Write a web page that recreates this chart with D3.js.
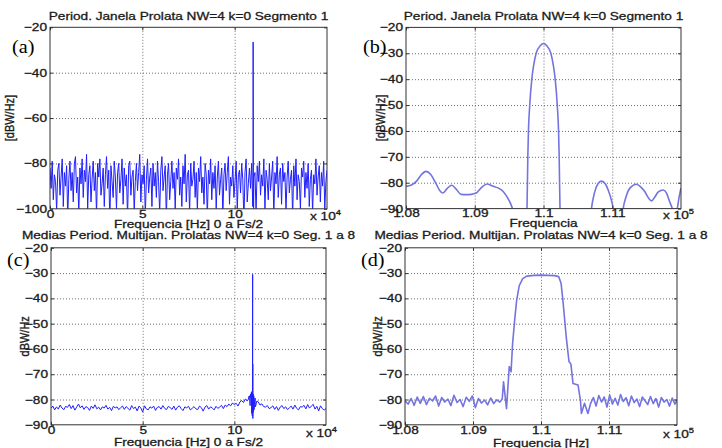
<!DOCTYPE html>
<html>
<head>
<meta charset="utf-8">
<title>Periodogramas janela prolata</title>
<script src="https://d3js.org/d3.v7.min.js"></script>
<style>
  body { margin: 0; background: #fff; }
  svg { display: block; background: #fff; }
  text { font-family: "Liberation Sans", Arial, sans-serif; fill: #1a1a1a; stroke: #1a1a1a; stroke-width: 0.3px; }
  .letra { font-family: "Liberation Serif", "Times New Roman", serif; font-size: 18px; fill: #000; stroke: none; }
</style>
</head>
<body>
<svg width="722" height="448"></svg>
<script>
// --- dados ---
// (a) periodograma de um segmento, 0 a Fs/2, passo de 600 Hz
const passoA = 600;
const ruidoA = [
  -82,-91,-79,-96,-85,-88,-101,-83,-80,-94,
  -86,-78,-99,-84,-90,-81,-104,-87,-79,-92,
  -84,-97,-80,-77,-93,-86,-102,-82,-89,-78,
  -95,-83,-88,-76,-100,-85,-81,-97,-87,-79,
  -92,-84,-103,-80,-86,-78,-94,-89,-82,-99,
  -85,-77,-91,-83,-106,-81,-88,-95,-79,-86,
  -100,-84,-80,-93,-87,-78,-98,-82,-90,-85,
  -104,-81,-79,-94,-86,-83,-101,-88,-80,-92,
  -84,-76,-97,-85,-89,-81,-103,-87,-78,-93,
  -86,-82,-99,-80,-90,-84,-95,-79,-88,-102,
  -83,-77,-92,-86,-81,-105,-85,-80,-96,-88,
  -79,-91,-84,-100,-82,-87,-78,-94,-86,-99,
  -81,-89,-76,-97,-85,-83,-102,-80,-90,-87,
  -79,-95,-84,-101,-82,-88,-77,-93,-86,-98,
  -80,-85,-104,-83,-89,-78,-96,-84,-91,-81,
  -100,-86,-79,-94,-87,-82,-103,-85,-80,-92,
  -84,-77,-98,-86,-90,-81,-95,-88,-79,-101,
  -85,-83,-93,-80,-87,-106,-84,-78,-97,-89,
  -82,-91,-80,-99,-86,-84,-102,-81,-88,-79,
  -94,-85,-90,-78,-100,-83,-87,-96,-80,-92,
  -86,-79,-103,-84,-89,-77,-95,-85,-82,-98,
  -80,-88,-84,-101,-86,-79,-93,-87,-83,-104,
  -81,-90,-78,-96,-85,-88,-100,-82,-86,-79,
  -95,-84,-91,-80,-99,-87,-83,-102,-85,-89,
  -78,-94,-86,-81,-97,-84,-90,-79,-100,-88,
  -83
];
const picoA = [[109950,-94],[110000,-26.5],[110060,-49],[110120,-86],[110250,-100]];

// (b) zoom do segmento 1 em torno de 110 kHz
const freqB = [108000,108080,108150,108220,108290,108360,108430,108490,108535,108600,108666,108730,
  108800,108880,108948,109020,109100,109181,109260,109337,109410,109470,109520,109560,109620,
  109740,109760,109772,109781,109800,109830,109855,109893,109955,110000,110045,110107,110145,
  110170,110200,110219,110228,110240,110260,
  110660,110697,110740,110790,110843,110900,110950,110990,111013,111050,
  111120,111159,111200,111260,111353,111420,111475,111530,111572,111620,111670,111742,
  111790,111830,111873,111912,111940,111970,112000];
const potB = [-81.4,-80.9,-79.5,-77.0,-75.6,-76.8,-80.0,-83.0,-84.0,-82.2,-81.0,-82.5,
  -84.5,-84.6,-84.5,-84.0,-81.8,-80.5,-81.3,-82.0,-83.3,-85.5,-88,-91,-100,
  -100,-90,-70,-60,-50,-40,-35,-30,-27,-26.2,-27,-30,-35,
  -40,-50,-60,-70,-90,-100,
  -100,-90,-84,-80.5,-79.4,-80.5,-83.5,-87,-90,-100,
  -100,-90,-85.5,-82,-80.6,-81.8,-83.5,-86,-87,-85.5,-83.5,-82.8,
  -84,-87,-90,-94,-91,-86,-82];

// (c) media dos periodogramas, passo de 1 kHz
const passoC = 1000;
const ruidoC = [
  -83.5,-82.6,-84.1,-82.9,-83.8,-82.2,-83.4,-84.0,-82.7,-83.1,
  -82.0,-83.6,-82.4,-84.2,-83.0,-81.8,-83.3,-82.5,-83.9,-82.8,
  -83.2,-84.3,-82.6,-83.5,-82.1,-83.7,-83.0,-84.1,-82.9,-83.4,
  -82.3,-83.8,-83.1,-84.4,-82.7,-83.3,-82.9,-84.0,-83.2,-82.6,
  -83.9,-82.8,-83.5,-84.2,-82.4,-83.6,-83.0,-84.5,-82.6,-83.3,
  -85.0,-82.5,-83.7,-84.1,-82.9,-83.4,-82.6,-84.3,-83.1,-82.8,
  -83.8,-82.4,-83.5,-84.0,-82.7,-83.2,-83.9,-82.6,-84.2,-83.0,
  -82.5,-83.6,-84.4,-82.9,-83.3,-82.7,-84.1,-83.5,-82.8,-83.7,
  -84.0,-82.6,-83.2,-84.6,-83.0,-82.4,-83.8,-82.9,-83.4,-84.1,
  -82.7,-83.5,-83.0,-82.3,-83.6,-82.2,-82.8,-81.8,-82.5,-81.4,
  -82.0,-81.5,-82.6,-81.0,-80.4,-81.2,-79.8,-80.5,-78.6,-79.2,
  -78.0,-80.8,-81.6,-80.9,-82.2,-81.7,-82.8,-83.0,-82.4,-83.6,
  -83.2,-82.5,-83.9,-82.8,-84.3,-83.0,-82.4,-83.6,-82.9,-84.0,
  -83.3,-82.6,-83.8,-82.2,-83.5,-84.1,-82.8,-83.0,-82.3,-83.7,
  -82.0,-83.4,-82.6,-81.9,-83.8,-82.7,-84.5,-82.5,-83.6,-84.2,
  -83.5
];
const picoC = [[107500,-80.2],[108300,-78.6],[108600,-82.4],[108800,-77.9],
  [109300,-77.2],[109500,-85.5],[109650,-76.8],[109800,-86.5],[109900,-77.5],
  [109990,-30.5],[110040,-66],[110100,-87.5],[110250,-77.8],[110400,-85],[110600,-78.5],[110800,-84],
  [111300,-79.4],[111500,-82.9],[112300,-80.6]];

// (d) zoom da media em torno de 110 kHz
const freqD = [108000,108045,108090,108135,108180,108225,108270,108315,108360,108405,108450,108495,
  108540,108585,108630,108675,108720,108765,108810,108855,108900,108945,108990,109035,109080,109125,
  109170,109215,109260,109305,109350,109395,109430,
  109449,109493,109533,109560,109582,109615,109641,109680,109730,109790,109900,110000,110100,110200,
  110260,110295,110323,110370,110412,110440,110471,110545,110580,110594,110640,110690,
  110730,110770,110810,110850,110890,110930,110970,111010,111050,111090,111130,111170,111210,111250,
  111290,111330,111370,111410,111450,111490,111530,111570,111610,111650,111690,111730,111770,111810,
  111850,111890,111930,111970,112000];
const potD = [-80.5,-81.8,-79.6,-82.3,-79.0,-81.5,-78.8,-82.0,-79.5,-80.6,-78.6,-82.6,
  -79.2,-81.0,-79.8,-82.4,-78.3,-81.2,-80.0,-82.8,-79.1,-80.7,-78.6,-83.2,-79.6,-81.4,
  -80.2,-82.1,-79.4,-81.6,-80.1,-81.0,-79.8,
  -73,-83.6,-67,-69,-58,-48,-41,-35,-32.2,-31.2,-30.9,-30.8,-30.9,-31.0,
  -31.4,-34,-41,-55,-65,-66,-73.7,-74.3,-80.3,-85.5,-81.5,-85.5,
  -81.5,-79.2,-82.6,-78.4,-81.0,-79.0,-83.0,-78.2,-81.8,-79.5,-82.2,-78.0,-80.8,-79.3,
  -82.5,-78.6,-81.2,-79.8,-82.8,-79.0,-80.5,-82.0,-78.8,-81.6,-79.6,-83.0,-79.2,-81.0,
  -80.0,-82.6,-79.4,-81.8,-80.2];

// rotulos
const tituloSeg = "Period. Janela Prolata NW=4 k=0 Segmento 1";
const tituloMed = "Medias Period. Multijan. Prolatas NW=4 k=0 Seg. 1 a 8";
const ticksLargo = [0, 50000, 100000];
const ticksZoom = [108000, 109000, 110000, 111000];
const ticksYa = [-100, -80, -60, -40, -20];
const ticksY10 = [-90, -80, -70, -60, -50, -40, -30, -20];

// monta series [freq, dB]
const serieA = ruidoA.map((v, i) => [i * passoA, v]).concat(picoA).sort((p, q) => p[0] - q[0]);
const serieC = ruidoC.map((v, i) => [i * passoC, v]).concat(picoC).sort((p, q) => p[0] - q[0]);
const serieB = freqB.map((f, i) => [f, potB[i]]);
const serieD = freqD.map((f, i) => [f, potD[i]]);

const SX = 1.24; // figura original esticada na horizontal
const svg = d3.select("svg");

const paineis = [
  {letra:"(a)", lx:12, ly:53, titulo:tituloSeg, ty:20, xlabel:"Frequencia [Hz] 0 a Fs/2", xly:228,
   ylabel:"[dBW/Hz]", ylx:14, exp:"4", ex:310, ey:220,
   x0:50, x1:327, y0:27.3, y1:208.8, xDom:[0,150000], yDom:[-100,-20],
   xTicks:ticksLargo, yTicks:ticksYa, fmt:d => d / 1e4, dados:serieA, cor:"#1f1fff", larg:1, curva:d3.curveLinear},
  {letra:"(b)", lx:363, ly:53, titulo:tituloSeg, ty:20, xlabel:"Frequencia", xly:227,
   ylabel:"[dBW/Hz]", ylx:385, exp:"5", ex:663, ey:219,
   x0:406, x1:681, y0:27.4, y1:208.6, xDom:[108000,112000], yDom:[-90,-20],
   xTicks:ticksZoom, yTicks:ticksY10, fmt:d => +(d / 1e5).toFixed(3), dados:serieB, cor:"#7474e0", larg:1.6, curva:d3.curveMonotoneX},
  {letra:"(c)", lx:7, ly:266, titulo:tituloMed, ty:239, xlabel:"Frequencia [Hz] 0 a Fs/2", xly:446,
   ylabel:"dBW/Hz", ylx:29, exp:"4", ex:306, ey:437,
   x0:51, x1:326, y0:247.8, y1:424.8, xDom:[0,150000], yDom:[-90,-20],
   xTicks:ticksLargo, yTicks:ticksY10, fmt:d => d / 1e4, dados:serieC, cor:"#1f1fff", larg:1, curva:d3.curveLinear},
  {letra:"(d)", lx:361, ly:266, titulo:tituloMed, ty:239, xlabel:"Frequencia [Hz]", xly:446.5,
   ylabel:"dBW/Hz", ylx:382, exp:"5", ex:663, ey:438,
   x0:405, x1:677, y0:247.8, y1:424.8, xDom:[108000,112000], yDom:[-90,-20],
   xTicks:ticksZoom, yTicks:ticksY10, fmt:d => +(d / 1e5).toFixed(3), dados:serieD, cor:"#7474e0", larg:1.6, curva:d3.curveLinear}
];

function texto(g, x, y, s, anchor) {
  return g.append("text")
    .attr("transform", `translate(${x},${y}) scale(${SX},1)`)
    .attr("text-anchor", anchor || "start")
    .attr("font-size", 11)
    .text(s);
}

paineis.forEach((p, k) => {
  const g = svg.append("g");
  const x = d3.scaleLinear().domain(p.xDom).range([p.x0, p.x1]);
  const y = d3.scaleLinear().domain(p.yDom).range([p.y1, p.y0]);
  const w = p.x1 - p.x0, h = p.y1 - p.y0;

  // grade pontilhada
  const grade = sel => sel.call(a => a.select(".domain").remove())
    .selectAll("line").attr("stroke", "#6f6f6f").attr("stroke-dasharray", "1,2");
  g.append("g").attr("transform", `translate(0,${p.y1})`)
    .call(d3.axisBottom(x).tickValues(p.xTicks.filter(t => t > p.xDom[0])).tickSize(-h).tickFormat(""))
    .call(grade);
  g.append("g").attr("transform", `translate(${p.x0},0)`)
    .call(d3.axisLeft(y).tickValues(p.yTicks.filter(t => t > p.yDom[0] && t < p.yDom[1])).tickSize(-w).tickFormat(""))
    .call(grade);

  // curva
  g.append("clipPath").attr("id", "clip" + k)
    .append("rect").attr("x", p.x0).attr("y", p.y0).attr("width", w).attr("height", h);
  g.append("path").datum(p.dados)
    .attr("clip-path", `url(#clip${k})`)
    .attr("fill", "none").attr("stroke", p.cor).attr("stroke-width", p.larg)
    .attr("stroke-linejoin", "round")
    .attr("d", d3.line().curve(p.curva).x(d => x(d[0])).y(d => y(d[1])));

  // eixos com marcas para dentro
  const eixo = (sel) => {
    sel.select(".domain").remove();
    sel.attr("font-family", null).attr("font-size", 11);
    sel.selectAll("line").attr("stroke", "#333");
    sel.selectAll("text").attr("fill", "#1a1a1a").attr("transform", `scale(${SX},1)`);
  };
  g.append("g").attr("transform", `translate(0,${p.y1})`)
    .call(d3.axisBottom(x).tickValues(p.xTicks).tickSize(-3).tickPadding(1).tickFormat(p.fmt)).call(eixo);
  g.append("g").attr("transform", `translate(${p.x0},0)`)
    .call(d3.axisLeft(y).tickValues(p.yTicks).tickSize(-3).tickPadding(2.4)).call(eixo);
  g.append("g").attr("transform", `translate(0,${p.y0})`)
    .call(d3.axisTop(x).tickValues(p.xTicks).tickSize(-3).tickFormat("")).call(eixo);
  g.append("g").attr("transform", `translate(${p.x1},0)`)
    .call(d3.axisRight(y).tickValues(p.yTicks).tickSize(-3).tickFormat("")).call(eixo);

  g.append("rect").attr("x", p.x0).attr("y", p.y0).attr("width", w).attr("height", h)
    .attr("fill", "none").attr("stroke", "#333").attr("stroke-width", 1);

  // textos
  const cx = (p.x0 + p.x1) / 2;
  texto(g, cx, p.ty, p.titulo, "middle");
  texto(g, cx, p.xly, p.xlabel, "middle");
  g.append("text")
    .attr("transform", `translate(${p.ylx},${(p.y0 + p.y1) / 2}) scale(${SX},1) rotate(-90)`)
    .attr("text-anchor", "middle").attr("font-size", 11).text(p.ylabel);
  const e = texto(g, p.ex, p.ey, "x 10");
  e.append("tspan").attr("font-size", 7.5).attr("dy", -5).text(p.exp);
  g.append("text").attr("class", "letra")
    .attr("transform", `translate(${p.lx},${p.ly}) scale(1.12,1)`).text(p.letra);
});
</script>
</body>
</html>
